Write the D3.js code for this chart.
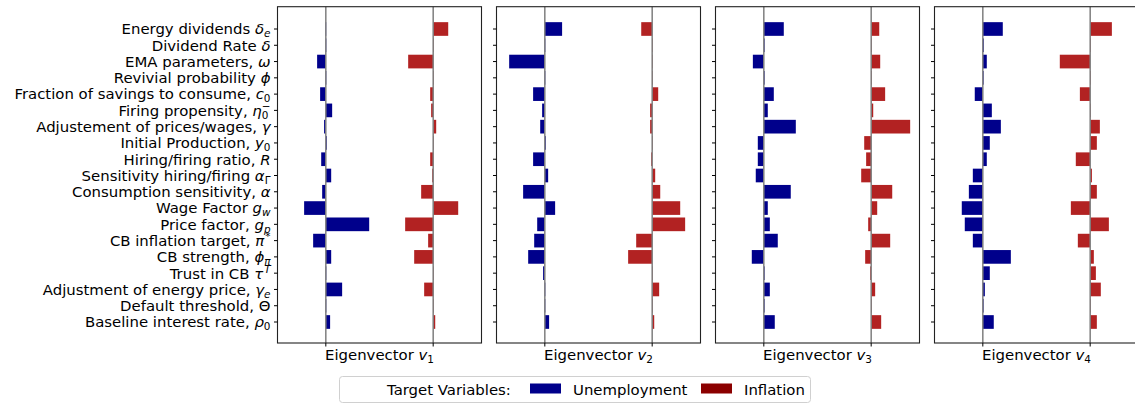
<!DOCTYPE html>
<html>
<head>
<meta charset="utf-8">
<script src="https://cdn.jsdelivr.net/npm/d3@7"></script>
<style>
  body { margin: 0; background: #fff; }
  svg { display: block; font-family: "DejaVu Sans", sans-serif; }
</style>
</head>
<body>
<svg id="chart" width="1135" height="403"></svg>
<script>
// parameter labels: [plain text, math symbol, subscript, superscript]
const params = [
  ["Energy dividends ", "δ", "e", ""],
  ["Dividend Rate ", "δ", "", ""],
  ["EMA parameters, ", "ω", "", ""],
  ["Revivial probability ", "ϕ", "", ""],
  ["Fraction of savings to consume, ", "c", "0", ""],
  ["Firing propensity, ", "η", "0", "−"],
  ["Adjustement of prices/wages, ", "γ", "", ""],
  ["Initial Production, ", "y", "0", ""],
  ["Hiring/firing ratio, ", "R", "", ""],
  ["Sensitivity hiring/firing ", "α", "Γ", ""],
  ["Consumption sensitivity, ", "α", "", ""],
  ["Wage Factor ", "g", "w", ""],
  ["Price factor, ", "g", "p", ""],
  ["CB inflation target, ", "π", "", "*"],
  ["CB strength, ", "ϕ", "π", ""],
  ["Trust in CB ", "τ", "", "T"],
  ["Adjustment of energy price, ", "γ", "e", ""],
  ["Default threshold, ", "Θ", "", ""],
  ["Baseline interest rate, ", "ρ", "0", ""]
];

const targets = ["Unemployment", "Inflation"];
const eigenLabels = ["1", "2", "3", "4"];

// eigenvector components, one value per parameter
const unempV1 = [-0.004, -0.003, -0.081, -0.003, -0.053, 0.059, -0.016, 0.009, -0.043, 0.050,
                 -0.034, -0.202, 0.404, -0.118, 0.050, -0.003, 0.152, -0.003, 0.040];
const inflV1  = [0.140, 0.003, -0.233, 0.002, -0.028, -0.019, 0.028, 0.002, -0.028, -0.009,
                 -0.112, 0.233, -0.261, -0.047, -0.177, 0.003, -0.084, 0.002, 0.019];
const unempV2 = [0.161, -0.003, -0.332, -0.003, -0.109, -0.025, -0.043, 0.009, -0.109, 0.031,
                 -0.202, 0.096, -0.071, -0.099, -0.155, -0.016, -0.003, -0.003, 0.040];
const inflV2  = [-0.102, 0.003, 0.003, 0.002, 0.056, -0.019, -0.019, 0.003, -0.009, 0.028,
                 0.075, 0.261, 0.307, -0.149, -0.224, 0.002, 0.065, 0.003, 0.019];
const unempV3 = [0.186, 0.003, -0.102, 0.003, 0.093, 0.037, 0.298, -0.056, -0.056, -0.075,
                 0.251, 0.037, 0.056, 0.130, -0.112, 0.003, 0.056, 0.003, 0.102];
const inflV3  = [0.075, 0.002, 0.084, 0.002, 0.130, 0.019, 0.363, -0.065, -0.047, -0.093,
                 0.196, 0.056, -0.028, 0.177, -0.056, -0.009, 0.037, 0.003, 0.093];
const unempV4 = [0.186, 0.009, 0.037, 0.006, -0.075, 0.084, 0.168, 0.065, 0.037, -0.093,
                 -0.130, -0.196, -0.168, -0.093, 0.261, 0.065, 0.019, 0.003, 0.102];
const inflV4  = [0.202, 0.002, -0.283, 0.002, -0.096, 0.003, 0.090, 0.062, -0.134, 0.016,
                 0.062, -0.180, 0.174, -0.115, 0.034, 0.053, 0.099, 0.002, 0.062];

const unemployment = [unempV1, unempV2, unempV3, unempV4];
const inflation = [inflV1, inflV2, inflV3, inflV4];

const colors = { Unemployment: "#00008b", Inflation: "#b22222" };
const legendColors = { Unemployment: "#00008b", Inflation: "#8b0000" };

const svg = d3.select("#chart");
const panelW = 204, panelStep = 219, firstLeft = 277.5;
const yTop = 6.7, yBottom = 343;
const fontSize = 14.9;
const small = fontSize * 0.7;

// mathtext: capital greek stays upright, everything else italic
const isItalic = s => !/[\u0391-\u03A9]/.test(s);

const x = d3.scaleLinear().domain([-0.45, 1.45]).range([0, panelW]);
const y = d3.scaleLinear().domain([-1.37, 19.29]).range([yTop, yBottom]);
const barH = (y(1) - y(0)) * 0.84;

// y tick labels with mathtext-like parts
const labelG = svg.append("g")
  .attr("font-size", fontSize)
  .attr("fill", "#000")
  .attr("text-anchor", "end");

params.forEach((p, i) => {
  const t = labelG.append("text")
    .attr("x", firstLeft - 7)
    .attr("y", y(i))
    .attr("dy", "0.36em");
  t.append("tspan").text(p[0]);
  t.append("tspan").attr("font-style", isItalic(p[1]) ? "italic" : "normal").text(p[1]);
  if (p[2]) {
    t.append("tspan").attr("font-size", small)
      .attr("font-style", /[a-zα-ω]/.test(p[2]) ? "italic" : "normal")
      .attr("baseline-shift", "-3px").text(p[2]);
  }
  if (p[3]) {
    t.append("tspan").attr("font-size", small)
      .attr("dx", p[2] ? -small * 0.64 : 1)
      .attr("font-style", /[A-Za-z]/.test(p[3]) ? "italic" : "normal")
      .attr("baseline-shift", "6px").text(p[3]);
  }
});

eigenLabels.forEach((ev, k) => {
  const g = svg.append("g").attr("transform", `translate(${firstLeft + k * panelStep},0)`);

  // bars: unemployment anchored at 0, inflation at 1
  [unemployment[k], inflation[k]].forEach((vals, s) => {
    const base = s;
    g.append("g").selectAll("rect")
      .data(vals)
      .join("rect")
      .attr("x", d => x(Math.min(base, base + d)))
      .attr("width", d => Math.max(0.8, Math.abs(x(base + d) - x(base))))
      .attr("y", (d, i) => y(i) - barH / 2)
      .attr("height", barH)
      .attr("fill", colors[targets[s]]);
  });

  // zero reference lines
  g.append("g").selectAll("line")
    .data([0, 1])
    .join("line")
    .attr("x1", d => x(d)).attr("x2", d => x(d))
    .attr("y1", yTop).attr("y2", yBottom)
    .attr("stroke", "#7f7f7f")
    .attr("stroke-width", 1.5);

  // frame
  g.append("rect")
    .attr("x", 0).attr("y", yTop)
    .attr("width", panelW).attr("height", yBottom - yTop)
    .attr("fill", "none")
    .attr("stroke", "#222")
    .attr("stroke-width", 1.1);

  // y ticks
  g.append("g").selectAll("line")
    .data(params)
    .join("line")
    .attr("x1", -3.5).attr("x2", 0)
    .attr("y1", (d, i) => y(i)).attr("y2", (d, i) => y(i))
    .attr("stroke", "#000").attr("stroke-width", 1);

  // x ticks at the two baselines
  g.append("g").selectAll("line")
    .data([0, 1])
    .join("line")
    .attr("x1", d => x(d)).attr("x2", d => x(d))
    .attr("y1", yBottom).attr("y2", yBottom + 3.5)
    .attr("stroke", "#000").attr("stroke-width", 1);

  const lab = g.append("text")
    .attr("x", panelW / 2)
    .attr("y", 360)
    .attr("text-anchor", "middle")
    .attr("font-size", fontSize)
    .attr("fill", "#000");
  lab.append("tspan").text("Eigenvector ");
  lab.append("tspan").attr("font-style", "italic").text("v");
  lab.append("tspan").attr("font-size", small).attr("baseline-shift", "-3px").text(ev);
});

// legend
const leg = svg.append("g").attr("font-size", fontSize).attr("fill", "#000");
leg.append("rect")
  .attr("x", 339.5).attr("y", 376.5)
  .attr("width", 471).attr("height", 26)
  .attr("rx", 3)
  .attr("fill", "#fff")
  .attr("stroke", "#d0d0d0");
leg.append("text").attr("x", 387).attr("y", 394.5).text("Target Variables:");
const items = [{ name: "Unemployment", px: 530 }, { name: "Inflation", px: 701 }];
items.forEach(it => {
  leg.append("rect")
    .attr("x", it.px).attr("y", 383.5)
    .attr("width", 31).attr("height", 10)
    .attr("fill", legendColors[it.name]);
  leg.append("text").attr("x", it.px + 43).attr("y", 394.5).text(it.name);
});
</script>
</body>
</html>
